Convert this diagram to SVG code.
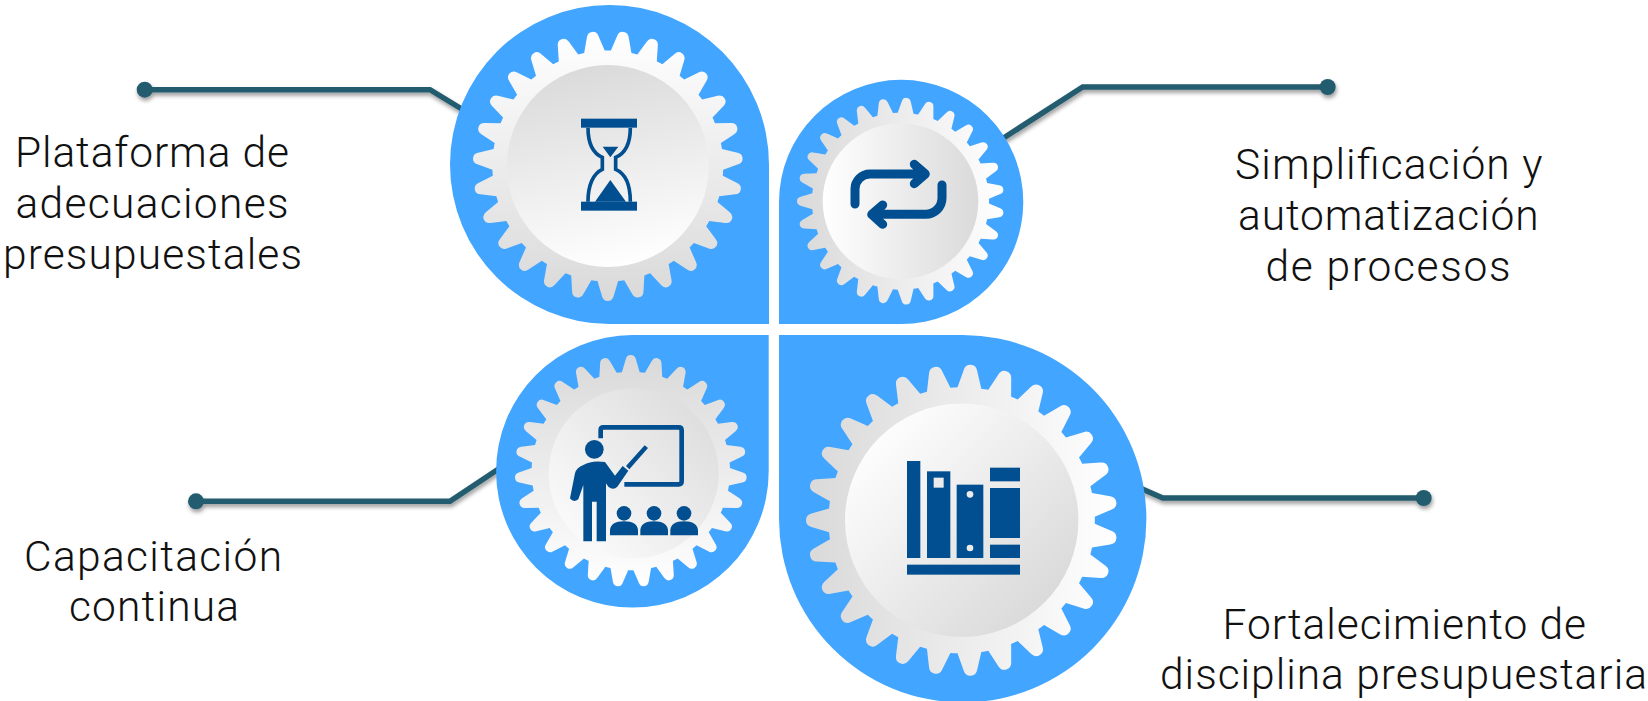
<svg xmlns="http://www.w3.org/2000/svg" xmlns:xlink="http://www.w3.org/1999/xlink" width="1648" height="701" viewBox="0 0 1648 701">
<style>
.blue{fill:#42A5FF}
.lab{font-family:Roboto,"Liberation Sans",sans-serif;font-weight:300;font-size:42.5px;fill:#111}
.ic{fill:#014F90}
.icl{fill:none;stroke:#014F90}
.hole{fill:#ececec}
.conn{fill:none;stroke:#235C6E;stroke-width:5.5}
.dot{fill:#235C6E}
</style>
<defs>
<linearGradient id="gearFill" x1="0" y1="0" x2="1" y2="0"><stop offset="0" stop-color="#d9d9d9"/><stop offset="1" stop-color="#fff"/></linearGradient>
<linearGradient id="in1" x1=".4" y1="0" x2=".6" y2="1"><stop offset="0" stop-color="#dadada"/><stop offset="1" stop-color="#fff"/></linearGradient>
<linearGradient id="in2" x1="0" y1=".5" x2="1" y2=".5"><stop offset="0" stop-color="#fff"/><stop offset="1" stop-color="#dadada"/></linearGradient>
<linearGradient id="in3" x1="0" y1="1" x2="1" y2="0"><stop offset="0" stop-color="#fff"/><stop offset="1" stop-color="#d9d9d9"/></linearGradient>
<linearGradient id="in4" x1=".1" y1=".1" x2=".9" y2=".9"><stop offset="0" stop-color="#fff"/><stop offset="1" stop-color="#d8d8d8"/></linearGradient>
<filter id="sh" x="-10%" y="-50%" width="120%" height="220%" filterUnits="objectBoundingBox"><feDropShadow dx="1" dy="3" stdDeviation="2" flood-color="#000" flood-opacity=".4"/></filter>
<path id="t" d="M-84,-8 L-96.5,-4.3 Q-100,-3.4 -100,0 Q-100,3.4 -96.5,4.3 L-84,8 Z"/>
<clipPath id="gear">
<circle r="85.5"/>
<use href="#t"/><use href="#t" transform="rotate(13.3333)"/><use href="#t" transform="rotate(26.6667)"/><use href="#t" transform="rotate(40)"/><use href="#t" transform="rotate(53.3333)"/><use href="#t" transform="rotate(66.6667)"/><use href="#t" transform="rotate(80)"/><use href="#t" transform="rotate(93.3333)"/><use href="#t" transform="rotate(106.6667)"/><use href="#t" transform="rotate(120)"/><use href="#t" transform="rotate(133.3333)"/><use href="#t" transform="rotate(146.6667)"/><use href="#t" transform="rotate(160)"/><use href="#t" transform="rotate(173.3333)"/><use href="#t" transform="rotate(186.6667)"/><use href="#t" transform="rotate(200)"/><use href="#t" transform="rotate(213.3333)"/><use href="#t" transform="rotate(226.6667)"/><use href="#t" transform="rotate(240)"/><use href="#t" transform="rotate(253.3333)"/><use href="#t" transform="rotate(266.6667)"/><use href="#t" transform="rotate(280)"/><use href="#t" transform="rotate(293.3333)"/><use href="#t" transform="rotate(306.6667)"/><use href="#t" transform="rotate(320)"/><use href="#t" transform="rotate(333.3333)"/><use href="#t" transform="rotate(346.6667)"/>
</clipPath>
</defs>
<rect width="1648" height="701" fill="#fff"/>
<g id="connectors">
<g filter="url(#sh)"><path class="conn" d="M145,89.7 H430 L465,111"/><circle class="dot" cx="144.7" cy="89.7" r="8"/></g>
<g filter="url(#sh)"><path class="conn" d="M1327,87 H1082.7 L1002,139"/><circle class="dot" cx="1327.7" cy="87" r="8"/></g>
<g filter="url(#sh)"><path class="conn" d="M196,501.3 H450 L500,468"/><circle class="dot" cx="196" cy="501.3" r="8"/></g>
<g filter="url(#sh)"><path class="conn" d="M1423,498 H1162.7 L1140,488"/><circle class="dot" cx="1423.7" cy="498" r="8"/></g>
</g>
<g id="node-plataforma">
<path class="blue" d="M609.5,5 A159.5,159.5 0 0 1 769,164.5 V324 H609.5 A159.5,159.5 0 0 1 609.5,5 Z"/>
<g transform="translate(607.8,166) scale(1.35) rotate(-90)"><circle r="101" clip-path="url(#gear)" fill="url(#gearFill)"/></g>
<circle cx="607.8" cy="166" r="101" fill="url(#in1)"/>
<g transform="translate(430,0) scale(.33333)">
<rect class="ic" x="453" y="356" width="168" height="27"/><rect class="ic" x="453" y="605" width="168" height="27"/>
<path class="icl" stroke-width="11" d="M474,383 C474,430 490,460 517,472 V508 C490,520 474,555 474,605 M601,383 C601,430 585,460 557,472 V508 C585,520 601,555 601,605"/>
<path class="ic" d="M518,440 H565 L541,472 Z M495,605 L541,540 L588,605 Z"/>
</g>
<text class="lab" x="15" y="167" textLength="274" lengthAdjust="spacing">Plataforma de</text>
<text class="lab" x="15.5" y="218" textLength="273" lengthAdjust="spacing">adecuaciones</text>
<text class="lab" x="3" y="269" textLength="299" lengthAdjust="spacing">presupuestales</text>
</g>
<g id="node-simplificacion">
<path class="blue" d="M779,202 A122,122 0 0 1 1023.3,202 A122,122 0 0 1 901,324 H779 Z"/>
<g transform="translate(900.5,201.2) scale(1.035)"><circle r="101" clip-path="url(#gear)" fill="url(#gearFill)"/></g>
<circle cx="900.5" cy="201.2" r="77.8" fill="url(#in2)"/>
<g fill="none" stroke="#014F90" stroke-width="9" stroke-linecap="round" stroke-linejoin="round">
<path d="M855,204 V189 A15,15 0 0 1 870,174 H925 M914.3,164.3 L925.3,174 L914.3,183.7"/>
<path d="M942,185 V198 A16.3,16.3 0 0 1 925.7,214.3 H872 M882.7,205 L871.7,214.5 L882.7,224.3"/>
</g>
<text class="lab" x="1235" y="178.5" textLength="307.5" lengthAdjust="spacing">Simplificación y</text>
<text class="lab" x="1238" y="229.5" textLength="300.5" lengthAdjust="spacing">automatización</text>
<text class="lab" x="1265.5" y="281" textLength="245" lengthAdjust="spacing">de procesos</text>
</g>
<g id="node-capacitacion">
<path class="blue" d="M632.3,335 H768.7 V471.2 A136.3,136.3 0 1 1 632.3,335 Z"/>
<g transform="translate(630.8,471) scale(1.16) rotate(90)"><circle r="101" clip-path="url(#gear)" fill="url(#gearFill)"/></g>
<circle cx="633.7" cy="473.3" r="85" fill="url(#in3)"/>
<g transform="translate(480,330) scale(.33333)">
<path class="icl" stroke-width="14" d="M362,325 V300 Q362,292 370,292 H596 Q605,292 605,301 V454 Q605,463 596,463 H433"/>
<path class="ic" d="M494,346 L504,354 L448,418 L438,408 Z"/>
<circle class="ic" cx="343" cy="358" r="28"/>
<path class="ic" d="M310,405 Q335,390 375,396 L405,437 L428,408 L445,422 L412,470 Q400,482 385,470 L378,460 V634 H350 V515 H336 V634 H310 V465 L295,508 Q280,520 270,505 L285,430 Q290,412 310,405 Z"/>
<circle class="ic" cx="432" cy="550" r="22"/><circle class="ic" cx="522" cy="550" r="22"/><circle class="ic" cx="612" cy="550" r="22"/>
<path class="ic" d="M390,616 V600 Q392,574 432,574 Q472,574 474,600 V616 Z M481,616 V600 Q483,574 522,574 Q561,574 564,600 V616 Z M571,616 V600 Q573,574 612,574 Q651,574 654,600 V616 Z"/>
</g>
<text class="lab" x="24" y="570.5" textLength="258" lengthAdjust="spacing">Capacitación</text>
<text class="lab" x="69" y="621" textLength="170" lengthAdjust="spacing">continua</text>
</g>
<g id="node-fortalecimiento">
<path class="blue" d="M779,335 H962.8 A183.7,183.7 0 1 1 779,518.7 Z"/>
<g transform="translate(961.7,520.3) scale(1.557)"><circle r="101" clip-path="url(#gear)" fill="url(#gearFill)"/></g>
<circle cx="961.7" cy="520.3" r="116.7" fill="url(#in4)"/>
<g transform="translate(770,330) scale(.33333)">
<rect class="ic" x="411" y="393" width="40" height="291"/>
<rect class="ic" x="471" y="424" width="70" height="260"/>
<rect class="hole" x="491" y="443" width="30" height="30"/>
<rect class="ic" x="560" y="464" width="80" height="220"/>
<circle class="hole" cx="600" cy="493" r="10"/><circle class="hole" cx="600" cy="654" r="10"/>
<rect class="ic" x="660" y="413" width="90" height="41"/>
<rect class="ic" x="660" y="474" width="90" height="150"/>
<rect class="ic" x="660" y="644" width="90" height="40"/>
<rect class="ic" x="411" y="704" width="339" height="30"/>
</g>
<text class="lab" x="1222.5" y="638.5" textLength="363.5" lengthAdjust="spacing">Fortalecimiento de</text>
<text class="lab" x="1160" y="688.5" textLength="487" lengthAdjust="spacing">disciplina presupuestaria</text>
</g>
</svg>
